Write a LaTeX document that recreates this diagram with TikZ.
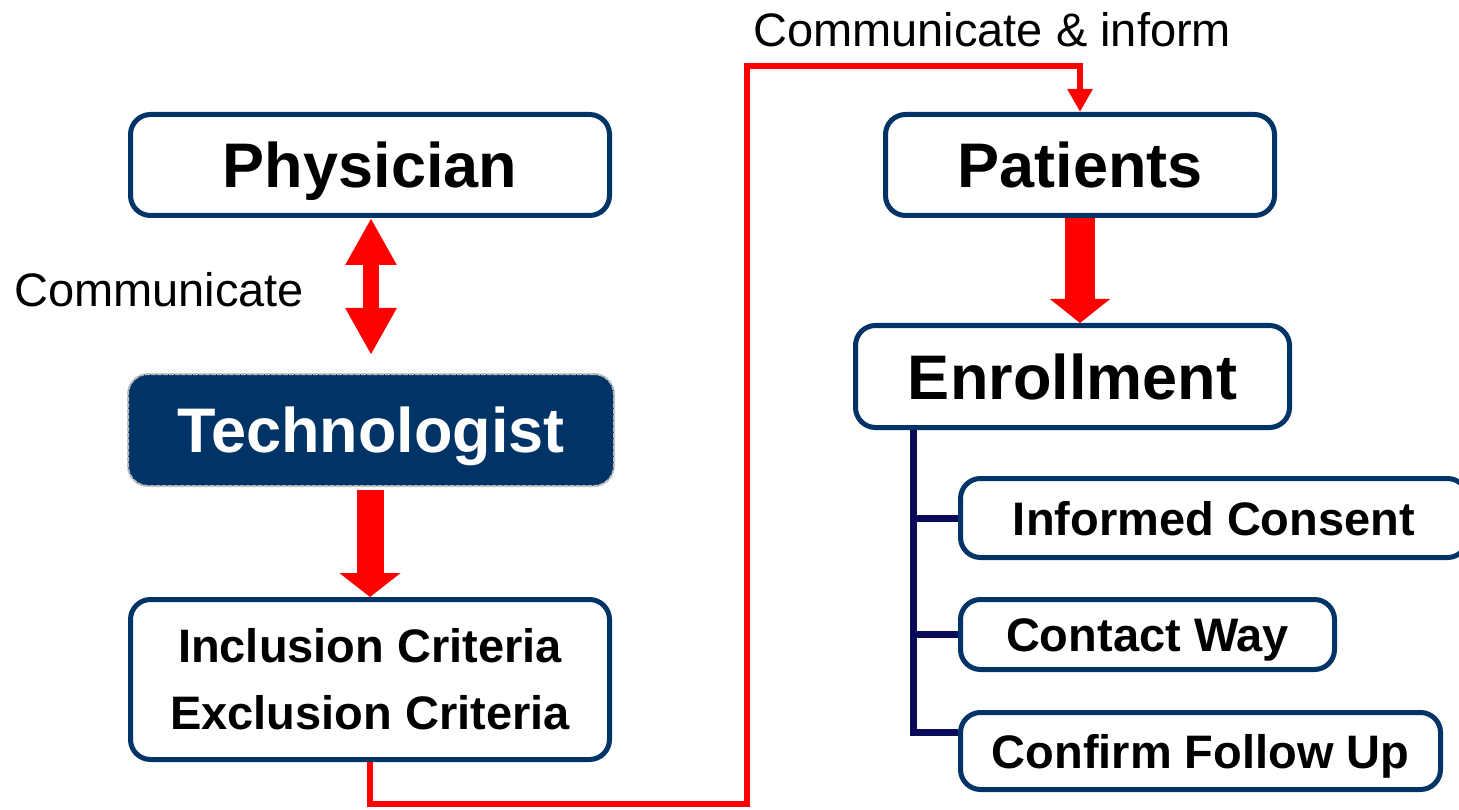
\documentclass[tikz,border=0pt]{standalone}
\usepackage{fontspec}
\setmainfont{Liberation Sans}
\usetikzlibrary{arrows.meta}
\definecolor{navy}{RGB}{0,51,102}
\definecolor{darknavy}{RGB}{10,10,90}
\begin{document}
\begin{tikzpicture}[x=1pt, y=-1pt,
    box/.style={draw=navy, line width=5pt, rounded corners=20pt, fill=white,
                inner sep=0pt, align=center},
    big/.style={font=\bfseries\fontsize{63}{70}\selectfont, text height=45pt, text depth=0pt},
    small/.style={font=\bfseries\fontsize{47}{67}\selectfont},
    oneline/.style={small, text height=34pt, text depth=0pt},
    fat/.style={red, line width=#1},
    link/.style={red, line width=6pt},
    branch/.style={darknavy, line width=7pt}]
    \useasboundingbox (0, 0) rectangle (1459, 810);
    % left column
    \node[box, big, minimum width=479, minimum height=101] (phys) at (370, 165) {Physician};
    \node[box, big, draw=black!25, densely dotted, line width=2pt, fill=navy, text=white,
          minimum width=486, minimum height=112] (tech) at (371, 430) {Technologist};
    \node[box, small, minimum width=479, minimum height=160] (crit) at (370, 679.5)
        {Inclusion Criteria\\Exclusion Criteria};
    % right column
    \node[box, big, minimum width=389, minimum height=101] (pat) at (1080, 165) {Patients};
    \node[box, big, minimum width=434, minimum height=102] (enrol) at (1072.5, 376.5) {Enrollment};
    \node[box, oneline, minimum width=507, minimum height=79] (consent) at (1214, 518) {Informed Consent};
    \node[box, oneline, minimum width=374, minimum height=70] (contact) at (1147.5, 634.5) {Contact Way};
    \node[box, oneline, minimum width=480, minimum height=77] (confirm) at (1200.5, 751) {Confirm Follow Up};
    % labels
    \node[anchor=base west, inner sep=0pt, font=\fontsize{47}{50}\selectfont] (comm) at (14, 306) {Communicate};
    \node[anchor=base west, inner sep=0pt, font=\fontsize{47}{50}\selectfont] (inform) at (753, 47) {Communicate \& inform};
    % fat arrows
    \draw[fat=16pt, {Triangle[width=48pt, length=47pt]}-{Triangle[width=48pt, length=47pt]}]
        ([xshift=1pt]phys.south) -- ([yshift=18pt]tech.north);
    \draw[fat=27pt, -{Triangle[width=60pt, length=24pt]}, shorten <=3pt]
        ([xshift=-1pt]tech.south) -- (crit.north);
    \draw[fat=30pt, -{Triangle[width=59pt, length=24pt]}] (pat.south) -- (pat.south |- enrol.north);
    % red connector
    \coordinate (low) at (747, 804);
    \coordinate (high) at (1080, 66);
    \draw[link, -{Triangle[width=24pt, length=23pt]}] (crit.south) |- (low) |- (high) -- (pat.north);
    % enrollment branches
    \coordinate (trunk) at (913, 430);
    \draw[branch] (trunk) |- (consent.west);
    \draw[branch] (trunk) |- (contact.west);
    \draw[branch] (trunk) |- ([yshift=19pt]confirm.west);
\end{tikzpicture}
\end{document}
